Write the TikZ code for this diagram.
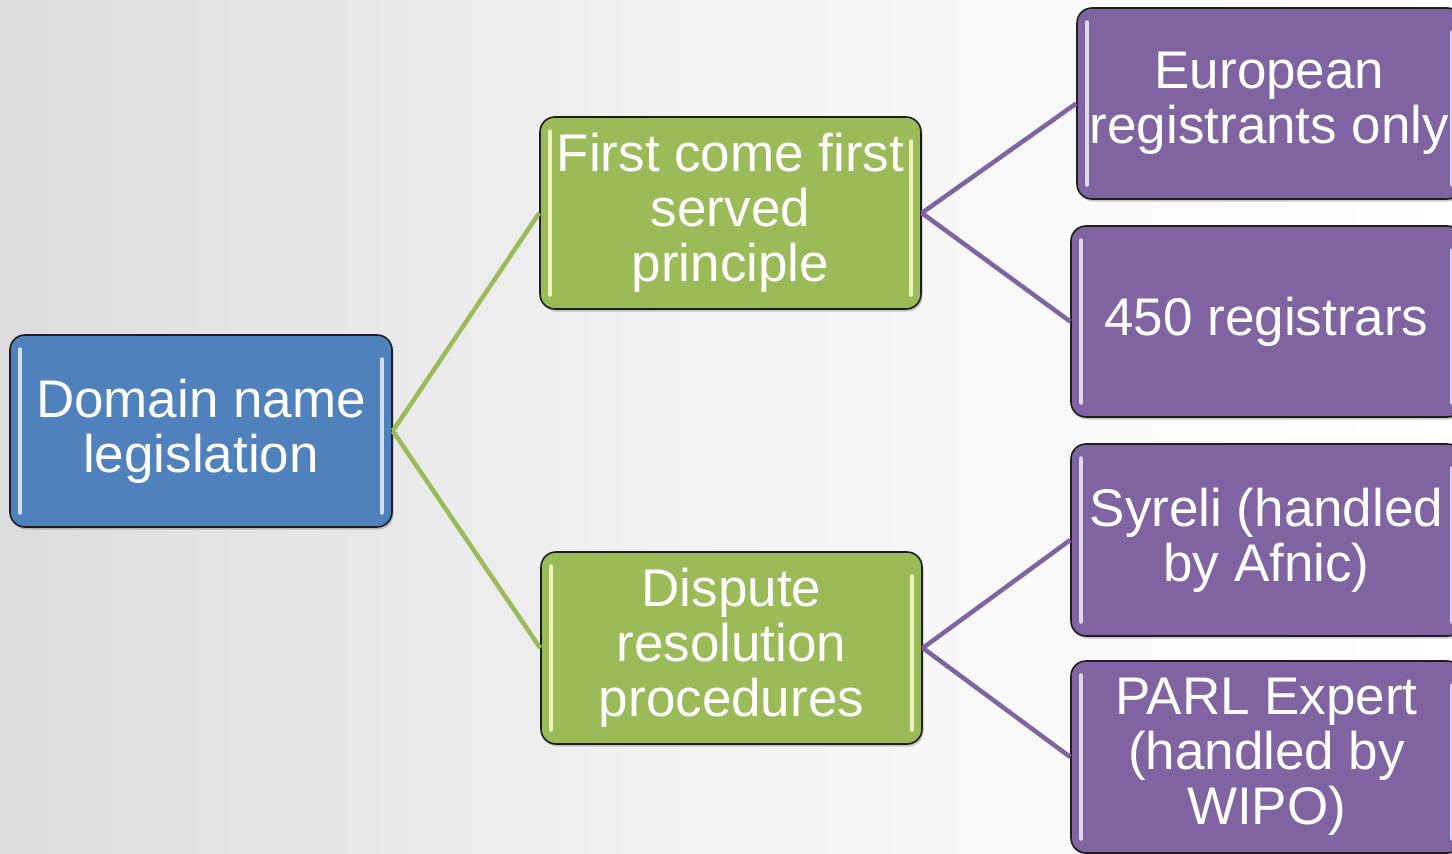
\documentclass[tikz,border=0pt]{standalone}
\usepackage{fontspec}
\setmainfont{Liberation Sans}
\usetikzlibrary{shadows}
\definecolor{bgl}{RGB}{220,220,222}
\definecolor{bgm}{RGB}{244,244,245}
\definecolor{cblue}{RGB}{79,129,189}
\definecolor{cgreen}{RGB}{155,187,89}
\definecolor{cpurple}{RGB}{128,100,162}
\definecolor{cedge}{RGB}{30,30,30}
\tikzset{
  box/.style={rounded corners=15pt, draw=cedge, line width=1.6pt, inner sep=0pt,
    text=white, align=center, font=\fontsize{53}{55}\selectfont,
    drop shadow={shadow xshift=1.5pt, shadow yshift=-2.5pt, opacity=0.35, fill=black!60}},
  gloss/.style={path picture={
    \draw[#1, line width=3.5pt, line cap=round]
      ([xshift=10pt,yshift=-14pt]path picture bounding box.north west) --
      ([xshift=10pt,yshift=14pt]path picture bounding box.south west);
    \draw[#1, line width=3.5pt, line cap=round]
      ([xshift=-10pt,yshift=-24pt]path picture bounding box.north east) --
      ([xshift=-10pt,yshift=14pt]path picture bounding box.south east);}},
  bluebox/.style={box, fill=cblue, gloss={cblue!25!white}},
  greenbox/.style={box, fill=cgreen, gloss={cgreen!20!white!85!yellow}},
  purplebox/.style={box, fill=cpurple, gloss={cpurple!25!white}},
  glink/.style={draw=cgreen, line width=4.5pt},
  plink/.style={draw=cpurple, line width=4.5pt},
}
\begin{document}
\begin{tikzpicture}[x=1pt,y=-1pt]
\shade[left color=bgl, right color=white, middle color=bgm] (0,0) rectangle (1452,854);
\useasboundingbox (0,0) rectangle (1452,854);

\node[bluebox, minimum width=382pt, minimum height=192pt] (dn) at (201,431) {Domain name\\legislation};
\node[greenbox, minimum width=381pt, minimum height=192pt] (fc) at (730.5,213) {First come first\\served\\principle};
\node[greenbox, minimum width=381pt, minimum height=192pt] (dr) at (731.5,648) {Dispute\\resolution\\procedures};
\node[purplebox, minimum width=385pt, minimum height=191pt] (eu) at (1269.5,103.5) {European\\registrants only};
\node[purplebox, minimum width=391pt, minimum height=191pt] (rg) at (1266.5,321.5) {450 registrars};
\node[purplebox, minimum width=391pt, minimum height=192pt] (sy) at (1266.5,540) {Syreli (handled\\by Afnic)};
\node[purplebox, minimum width=391pt, minimum height=192pt] (pa) at (1266.5,757) {PARL Expert\\(handled by\\WIPO)};

\draw[glink] (dn.east) -- (fc.west);
\draw[glink] (dn.east) -- (dr.west);
\draw[plink] (fc.east) -- (eu.west);
\draw[plink] (fc.east) -- (rg.west);
\draw[plink] (dr.east) -- (sy.west);
\draw[plink] (dr.east) -- (pa.west);
\end{tikzpicture}
\end{document}
